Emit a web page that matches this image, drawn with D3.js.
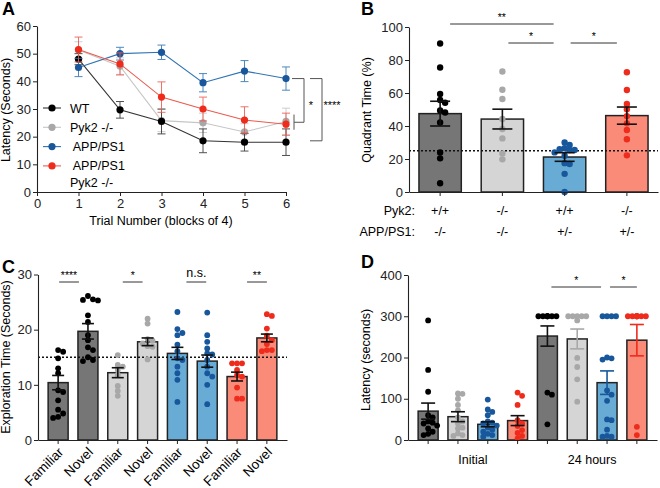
<!DOCTYPE html>
<html>
<head>
<meta charset="utf-8">
<script src="https://cdn.jsdelivr.net/npm/d3@7"></script>
<style>
  body { margin: 0; background: #fff; }
  svg { font-family: "Liberation Sans", Arial, sans-serif; }
</style>
</head>
<body>
<div id="chart"></div>
<script>
// ---------- panel A : latency per block of trials (mean, sem)
var trials = [1, 2, 3, 4, 5, 6];
var groupNames = ["WT", "Pyk2 -/-", "APP/PS1", "APP/PS1 Pyk2 -/-"];
var latWT = [48, 29.7, 25.5, 18.5, 18, 18];
var latWTsem = [2, 3, 4.5, 4.3, 3.2, 4.8];
var latPyk2 = [51.3, 45.5, 25.8, 25, 21.7, 25.5];
var latPyk2sem = [3, 3, 4, 3.5, 3, 4.8];
var latAPP = [45, 50, 50.5, 39.5, 43.7, 41];
var latAPPsem = [3.3, 2.3, 2.6, 3.3, 3.8, 4.2];
var latAPPPyk2 = [51.5, 46.3, 34.3, 30, 26, 24.5];
var latAPPPyk2sem = [4.5, 4, 5.5, 4.3, 4.8, 4];

// ---------- panel B : probe trial quadrant time
var pyk2Row = ["+/+", "-/-", "+/+", "-/-"];
var appRow = ["-/-", "-/-", "+/-", "+/-"];
var quadMean = [47.5, 44.2, 21.2, 46.3];
var quadSem = [7.5, 6, 2.6, 5.2];
var quadPoints = [
  [90, 75.5, 59.4, 55.8, 54.1, 49.4, 48.2, 42.1, 23.9, 20.4, 5.3],
  [73, 62, 56.4, 44.2, 38.2, 32.5, 23.4, 19.8],
  [30, 28.5, 26.5, 26, 25.5, 25.5, 24, 22, 17.5, 17, 11, 0],
  [72.6, 61.8, 53.3, 50.1, 46, 41.6, 37.6, 32, 22.2]
];
var quadChance = 25;

// ---------- panel C : novel object recognition
var objLabels = ["Familiar", "Novel", "Familiar", "Novel", "Familiar", "Novel", "Familiar", "Novel"];
var objMean = [10.4, 19.7, 12.2, 17.8, 15.7, 14.3, 11.5, 18.5];
var objSem = [1.3, 1.4, 0.9, 0.7, 1.1, 1.1, 0.8, 0.7];
var objPoints = [
  [16.3, 16, 14.8, 13, 12.1, 9, 8.7, 7.2, 5.5, 4.8, 4.2, 4],
  [26.1, 25.5, 25.3, 25.4, 22.6, 21.4, 19, 18.1, 16.8, 16.3, 15, 14.5, 14.3],
  [15.4, 13.6, 13.3, 12.7, 11.8, 9.8, 8.9, 8],
  [22, 21.1, 18.3, 18, 17.5, 17, 16.9, 14.6],
  [23.2, 20.1, 19.4, 19, 17.3, 16.1, 14.8, 14.5, 13.3, 12.1, 10.9, 6.9],
  [23.1, 19, 17.8, 16.6, 15.7, 15.5, 14.5, 13.3, 12.1, 11.5, 10, 6.5],
  [13.9, 13.9, 13.9, 12.7, 11.8, 11.5, 9.5, 7.5, 7.5],
  [22.8, 22.5, 20.2, 18.9, 18.1, 17.4, 16.3, 16.3, 16.1]
];
var objChance = 15;

// ---------- panel D : passive avoidance latency
var avoidGroups = ["Initial", "24 hours"];
var avoidMean = [70, 56.5, 38, 47, 252, 245, 139, 242];
var avoidSem = [19.5, 12, 6, 12, 24.5, 24, 28.5, 38];
var avoidPoints = [
  [290, 170, 117, 60, 55, 45, 42, 40, 35, 28, 20, 15, 12],
  [113, 112, 100, 85, 72, 55, 45, 40, 30, 28, 16, 12, 10],
  [98, 74, 68, 60, 45, 42, 40, 35, 30, 25, 20, 15, 12, 8],
  [115, 107, 85, 48, 40, 34, 24, 17, 10, 4],
  [300, 300, 300, 300, 300, 300, 300, 115, 110, 38],
  [300, 300, 300, 300, 300, 290, 199, 177, 147, 93],
  [300, 300, 300, 300, 200, 198, 195, 120, 110, 95, 50, 48, 25, 10, 8, 8],
  [300, 300, 300, 300, 300, 300, 300, 300, 32, 12]
];

// genotype colours: WT, Pyk2-/-, APP/PS1, APP/PS1 Pyk2-/-
var dotColors = ["#000000", "#a8a8a8", "#18579b", "#ef2b1c"];
var barColors = ["#767676", "#d5d5d5", "#68acd6", "#fb8b79"];
var ink = "#222";

var svg = d3.select("#chart").append("svg")
  .attr("width", 660)
  .attr("height", 488);

function panelLetter(t, x, y) {
  svg.append("text").attr("x", x).attr("y", y)
    .attr("font-size", 18).attr("font-weight", "bold").text(t);
}

function yTitle(t, x, y) {
  svg.append("text")
    .attr("transform", "translate(" + x + "," + y + ") rotate(-90)")
    .attr("text-anchor", "middle").attr("font-size", 12.5).text(t);
}

function styleAxis(g) {
  g.select(".domain").attr("stroke", ink).attr("stroke-width", 1.1);
  g.selectAll(".tick line").attr("stroke", ink);
  g.selectAll(".tick text").attr("font-size", 13).attr("fill", "#222");
}

// spread the points sideways so they don't sit on top of each other
function swarm(vals, y, step, maxOff) {
  var order = d3.range(vals.length).sort(function(a, b) { return vals[b] - vals[a]; });
  var cands = [0];
  for (var k = 1; k * step <= maxOff + 0.01; k++) cands.push(k * step, -k * step);
  var placed = [], offs = [];
  order.forEach(function(i) {
    var py = y(vals[i]), best = 0, bestD = -1;
    for (var c = 0; c < cands.length; c++) {
      var minD = Infinity;
      placed.forEach(function(p) {
        var dd = Math.hypot(p.x - cands[c], p.y - py);
        if (dd < minD) minD = dd;
      });
      if (minD >= step * 0.95) { best = cands[c]; break; }
      if (minD > bestD) { bestD = minD; best = cands[c]; }
    }
    offs[i] = best;
    placed.push({ x: best, y: py });
  });
  return offs;
}

function sigText(x, y, t, size) {
  svg.append("text").attr("x", x).attr("y", y).attr("text-anchor", "middle")
    .attr("fill", "#000").attr("font-size", size).text(t);
}

// ===================== A
(function() {
  var x = d3.scaleLinear().domain([0, 6]).range([37, 286]);
  var y = d3.scaleLinear().domain([0, 60]).range([192, 26]);

  var gy = svg.append("g").attr("transform", "translate(37,0)")
    .call(d3.axisLeft(y).tickValues(d3.range(0, 61, 10)).tickSize(4).tickPadding(2).tickSizeOuter(0));
  styleAxis(gy);
  var gx = svg.append("g").attr("transform", "translate(0,192)")
    .call(d3.axisBottom(x).tickValues(d3.range(0, 7)).tickFormat(d3.format("d"))
      .tickSize(4).tickPadding(3).tickSizeOuter(0));
  styleAxis(gx);

  svg.append("text").attr("x", 161).attr("y", 225).attr("text-anchor", "middle")
    .attr("font-size", 12.5).text("Trial Number (blocks of 4)");
  yTitle("Latency (Seconds)", 10, 110);

  var series = [
    { name: groupNames[1], v: latPyk2, e: latPyk2sem, c: dotColors[1], lc: "#c6c6c6" },
    { name: groupNames[0], v: latWT, e: latWTsem, c: dotColors[0], lc: "#333" },
    { name: groupNames[2], v: latAPP, e: latAPPsem, c: dotColors[2], lc: "#2f73b3" },
    { name: groupNames[3], v: latAPPPyk2, e: latAPPPyk2sem, c: dotColors[3], lc: "#ec5a4f" }
  ];
  var line = d3.line().x(function(d, i) { return x(trials[i]); }).y(function(d) { return y(d); });

  series.forEach(function(s) {
    var g = svg.append("g");
    g.append("path").attr("d", line(s.v)).attr("fill", "none")
      .attr("stroke", s.lc).attr("stroke-width", 1.1);
    s.v.forEach(function(v, i) {
      var cx = x(trials[i]);
      var eg = g.append("g").attr("stroke", s.lc).attr("stroke-width", 1).attr("opacity", 0.85);
      eg.append("line").attr("x1", cx).attr("x2", cx).attr("y1", y(v + s.e[i])).attr("y2", y(v - s.e[i]));
      eg.append("line").attr("x1", cx - 4).attr("x2", cx + 4).attr("y1", y(v + s.e[i])).attr("y2", y(v + s.e[i]));
      eg.append("line").attr("x1", cx - 4).attr("x2", cx + 4).attr("y1", y(v - s.e[i])).attr("y2", y(v - s.e[i]));
    });
    g.selectAll("circle").data(s.v).enter().append("circle")
      .attr("cx", function(d, i) { return x(trials[i]); })
      .attr("cy", function(d) { return y(d); })
      .attr("r", 3.6).attr("fill", s.c);
  });

  // legend
  var llc = ["#333", "#c6c6c6", "#2f73b3", "#ec5a4f"];
  var lab = ["WT", "Pyk2 -/-", " APP/PS1", " APP/PS1"];
  lab.forEach(function(t, i) {
    var ly = 108 + i * 19.3;
    svg.append("line").attr("x1", 43).attr("x2", 61).attr("y1", ly).attr("y2", ly)
      .attr("stroke", llc[i]).attr("stroke-width", 1.1);
    svg.append("circle").attr("cx", 52).attr("cy", ly).attr("r", 3.6).attr("fill", dotColors[i]);
    svg.append("text").attr("x", 70).attr("y", ly + 4.5).attr("font-size", 12.5)
      .attr("xml:space", "preserve").text(t);
  });
  svg.append("text").attr("x", 70).attr("y", 187).attr("font-size", 12.5).text("Pyk2 -/-");

  // significance brackets
  var bx = x(6);
  var br = svg.append("g").attr("stroke", "#555").attr("fill", "none").attr("stroke-width", 1);
  br.append("path").attr("d", "M" + (bx + 6) + "," + y(latAPP[5]) + "H" + (bx + 18) +
    "V" + y(25.2) + "H" + (bx + 8));
  br.append("line").attr("x1", bx + 8).attr("x2", bx + 8).attr("y1", y(28)).attr("y2", y(22.5));
  br.append("path").attr("d", "M" + (bx + 24) + "," + y(latAPP[5]) + "H" + (bx + 36) +
    "V" + y(18.5) + "H" + (bx + 24));
  sigText(bx + 25, 109, "*", 11);
  sigText(bx + 46, 109, "****", 11);

  panelLetter("A", 2, 15);
})();

// bar + scatter panel used by B, C and D
function barPanel(o) {
  var n = o.means.length;
  var x = d3.scaleBand().domain(d3.range(n)).range([o.left, o.right])
    .paddingInner(o.padIn).paddingOuter(o.padOut);
  var y = d3.scaleLinear().domain([0, o.yMax]).range([o.bottom, o.top]);
  var g = svg.append("g");
  var colorIdx = o.colorIdx || function(i) { return i % 4; };

  g.selectAll("rect").data(o.means).enter().append("rect")
    .attr("x", function(d, i) { return x(i); })
    .attr("y", function(d) { return y(d); })
    .attr("width", x.bandwidth())
    .attr("height", function(d) { return y(0) - y(d); })
    .attr("fill", function(d, i) { return barColors[colorIdx(i)]; })
    .attr("stroke", ink).attr("stroke-width", 1.5);

  if (o.chance != null) {
    g.append("line").attr("x1", o.left).attr("x2", o.right)
      .attr("y1", y(o.chance)).attr("y2", y(o.chance))
      .attr("stroke", "#111").attr("stroke-width", 1.3).attr("stroke-dasharray", "2,2");
  }

  o.points.forEach(function(pts, i) {
    var offs = swarm(pts, y, o.step, o.maxOff);
    var cx = x(i) + x.bandwidth() / 2;
    g.append("g").selectAll("circle").data(pts).enter().append("circle")
      .attr("cx", function(d, j) { return cx + offs[j]; })
      .attr("cy", function(d) { return y(d); })
      .attr("r", o.r)
      .attr("fill", dotColors[colorIdx(i)]);
  });

  o.means.forEach(function(m, i) {
    var cx = x(i) + x.bandwidth() / 2;
    var col = o.errColor ? o.errColor(i) : "#111";
    var eg = g.append("g").attr("stroke", col).attr("stroke-width", 1.6);
    eg.append("line").attr("x1", cx).attr("x2", cx).attr("y1", y(m + o.sems[i])).attr("y2", y(m - o.sems[i]));
    [m + o.sems[i], m - o.sems[i]].forEach(function(v) {
      eg.append("line").attr("x1", cx - o.cap).attr("x2", cx + o.cap).attr("y1", y(v)).attr("y2", y(v));
    });
  });

  var gy = svg.append("g").attr("transform", "translate(" + o.left + ",0)")
    .call(d3.axisLeft(y).tickValues(o.ticks).tickSize(4).tickPadding(2).tickSizeOuter(0));
  styleAxis(gy);
  var gx = svg.append("g").attr("transform", "translate(0," + o.bottom + ")")
    .call(d3.axisBottom(x).tickSize(4).tickFormat("").tickSizeOuter(0));
  styleAxis(gx);

  (o.sig || []).forEach(function(s) {
    var x1 = x(s.a) + x.bandwidth() / 2 + s.da, x2 = x(s.b) + x.bandwidth() / 2 + s.db;
    svg.append("line").attr("x1", x1).attr("x2", x2).attr("y1", s.y).attr("y2", s.y)
      .attr("stroke", "#333").attr("stroke-width", 1);
    if (s.t === "n.s.") sigText((x1 + x2) / 2, s.y - 5, s.t, 12.5);
    else sigText((x1 + x2) / 2, s.y - 3, s.t, 10.5);
  });

  return { x: x, y: y };
}

// ===================== B
(function() {
  var p = barPanel({
    means: quadMean, sems: quadSem, points: quadPoints,
    left: 409, right: 658, top: 27, bottom: 192, yMax: 100,
    padIn: 0.32, padOut: 0.16, ticks: d3.range(0, 101, 20),
    chance: quadChance, r: 3.2, step: 5, maxOff: 14, cap: 10,
    sig: [
      { a: 0, b: 2, da: 10, db: -11, y: 24, t: "**" },
      { a: 1, b: 2, da: 6, db: -11, y: 43, t: "*" },
      { a: 2, b: 3, da: 6, db: -10, y: 43, t: "*" }
    ]
  });
  var cx = function(i) { return p.x(i) + p.x.bandwidth() / 2; };
  svg.append("text").attr("x", 415).attr("y", 215).attr("text-anchor", "end").attr("font-size", 12.5).text("Pyk2:");
  svg.append("text").attr("x", 415).attr("y", 236).attr("text-anchor", "end").attr("font-size", 12.5).text("APP/PS1:");
  pyk2Row.forEach(function(t, i) {
    svg.append("text").attr("x", cx(i)).attr("y", 215).attr("text-anchor", "middle").attr("font-size", 12.5).text(t);
  });
  appRow.forEach(function(t, i) {
    svg.append("text").attr("x", cx(i)).attr("y", 236).attr("text-anchor", "middle").attr("font-size", 12.5).text(t);
  });
  yTitle("Quadrant Time (%)", 371, 110);
  panelLetter("B", 361, 15);
})();

// ===================== C
(function() {
  var p = barPanel({
    means: objMean, sems: objSem, points: objPoints,
    colorIdx: function(i) { return Math.floor(i / 2); },
    left: 38, right: 287, top: 274.5, bottom: 440, yMax: 30,
    padIn: 0.33, padOut: 0.34, ticks: [0, 10, 20, 30],
    chance: objChance, r: 2.9, step: 5, maxOff: 10, cap: 6,
    sig: [
      { a: 0, b: 1, da: 1, db: -9, y: 282, t: "****" },
      { a: 2, b: 3, da: 5, db: -5, y: 282, t: "*" },
      { a: 4, b: 5, da: 9, db: -1, y: 282, t: "n.s." },
      { a: 6, b: 7, da: 10, db: 0, y: 282, t: "**" }
    ]
  });
  objLabels.forEach(function(t, i) {
    var cx = p.x(i) + p.x.bandwidth() / 2;
    svg.append("text").attr("text-anchor", "end").attr("font-size", 13.5)
      .attr("transform", "translate(" + (cx + 6) + ",453) rotate(-45)").text(t);
  });
  yTitle("Exploration Time (Seconds)", 10, 357);
  panelLetter("C", 2, 273);
})();

// ===================== D
(function() {
  var p = barPanel({
    means: avoidMean, sems: avoidSem, points: avoidPoints,
    left: 408, right: 657, top: 275, bottom: 440, yMax: 400,
    padIn: 0.33, padOut: 0.34, ticks: d3.range(0, 401, 100),
    r: 2.9, step: 4.5, maxOff: 9, cap: 7,
    errColor: function(i) { return i < 5 ? "#111" : dotColors[i % 4]; },
    sig: [
      { a: 4, b: 6, da: 4, db: -6, y: 287, t: "*" },
      { a: 6, b: 7, da: 3, db: 0, y: 287, t: "*" }
    ]
  });
  avoidGroups.forEach(function(t, k) {
    var a = p.x(k * 4), b = p.x(k * 4 + 3) + p.x.bandwidth();
    svg.append("text").attr("x", (a + b) / 2).attr("y", 464).attr("text-anchor", "middle")
      .attr("font-size", 12.5).text(t);
  });
  yTitle("Latency (seconds)", 370, 360);
  panelLetter("D", 361, 268);
})();
</script>
</body>
</html>
